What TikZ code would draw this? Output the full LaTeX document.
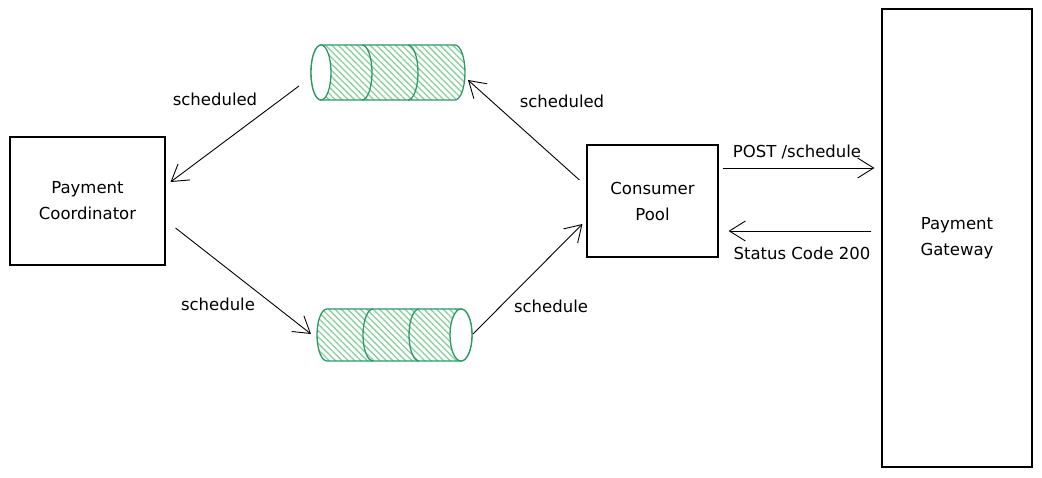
\documentclass[tikz,border=0pt]{standalone}
\usepackage{fontspec}
\setmainfont{DejaVu Sans}
\usepackage[svgnames]{xcolor}
\usetikzlibrary{
  arrows.meta,
  patterns.meta}

\definecolor{queueline}{HTML}{2B9A66}
\definecolor{queuehatch}{HTML}{86D197}

\tikzset{
  block/.style={draw, line width=1.1pt, align=center, inner sep=0pt,
    font=\fontsize{16.5}{26}\selectfont},
  flow/.style={-{Straight Barb[length=16pt,width=20pt]}, line width=0.9pt},
  tag/.style={font=\fontsize{16.5}{20}\selectfont},
  queuebox/.style={minimum width=155pt, minimum height=54pt, inner sep=0pt, outer sep=0pt},
  queuebody/.style={draw=queueline, line width=1.3pt,
    pattern={Lines[angle=-45,distance=4.5pt,line width=1.3pt]}, pattern color=queuehatch},
  queueface/.style={draw=queueline, line width=1.3pt, fill=white},
  queueseam/.style={draw=queueline, line width=1.3pt}
}

\begin{document}
\begin{tikzpicture}[x=1pt,y=1pt]
\useasboundingbox (0,0) rectangle (1042,477);

% services
\node[block, minimum width=155pt, minimum height=128pt] (coord) at (87.5,276) {Payment\\Coordinator};
\node[block, minimum width=131pt, minimum height=112pt] (pool) at (652.5,276) {Consumer\\Pool};
\node[block, minimum width=150pt, minimum height=458pt] (gw) at (957,239) {Payment\\Gateway};

% queues
\node[queuebox] (q1) at (387.5,404.5) {};
\node[queuebox] (q2) at (394.5,142) {};

\path[queuebody] (321,432) -- (455,432) arc[start angle=90, end angle=-90, x radius=10, y radius=27.5]
  -- (321,377) arc[start angle=270, end angle=90, x radius=10, y radius=27.5] -- cycle;
\foreach \x in {362,408}
  \draw[queueseam] (\x,432) arc[start angle=90, end angle=-90, x radius=10, y radius=27.5];
\draw[queueface] (321,404.5) ellipse[x radius=10, y radius=27.5];

\path[queuebody] (461,168) -- (327,168) arc[start angle=90, end angle=270, x radius=10, y radius=26]
  -- (461,116) arc[start angle=-90, end angle=90, x radius=11, y radius=26] -- cycle;
\foreach \x in {373,419}
  \draw[queueseam] (\x,168) arc[start angle=90, end angle=270, x radius=10, y radius=26];
\draw[queueface] (461,142) ellipse[x radius=11, y radius=26];

% flows
\draw[flow] ([shift={(-11,-13.5)}]q1.west) -- ([shift={(5,19)}]coord.east);
\draw[flow] ([shift={(10,-27)}]coord.east) -- ([shift={(-6,1)}]q2.west);
\draw[flow] ([shift={(1,1)}]q2.east) -- ([shift={(-4,-23)}]pool.west);
\draw[flow] ([shift={(-7,21)}]pool.west) -- ([shift={(3,-7.5)}]q1.east);
\draw[flow] ([shift={(4,33)}]pool.east) -- ([shift={(-7,70)}]gw.west);
\draw[flow] ([shift={(-10,7)}]gw.west) -- ([shift={(10,-30)}]pool.east);

% labels
\node[tag] (l1) at (215,378) {scheduled};
\node[tag] (l2) at (218,173) {schedule};
\node[tag] (l3) at (551,171) {schedule};
\node[tag] (l4) at (562,376) {scheduled};
\node[tag] (l5) at (797,325) {POST /schedule};
\node[tag] (l6) at (802,224) {Status Code 200};
\end{tikzpicture}
\end{document}
